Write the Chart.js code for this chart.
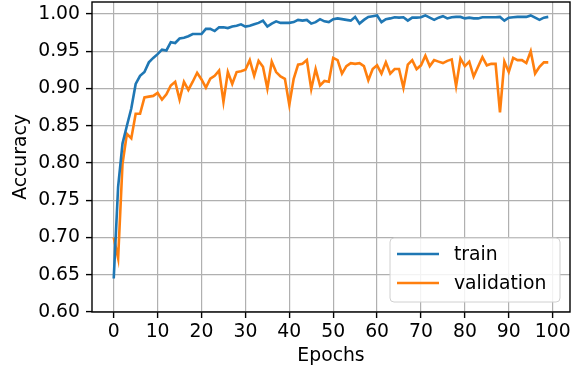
<!DOCTYPE html>
<html>
<head>
<meta charset="utf-8">
<script src="https://cdn.jsdelivr.net/npm/chart.js@4/dist/chart.umd.min.js"></script>
<style>
  html, body { margin: 0; padding: 0; background: #fff; }
</style>
</head>
<body>
<canvas id="acc" width="580" height="371"></canvas>
<script>
// ── DATA ──
const epochs = Array.from({ length: 100 }, (_, i) => i);

const trainAcc = [
  0.645, 0.768, 0.826, 0.850, 0.873, 0.906, 0.917, 0.922, 0.935, 0.941,
  0.946, 0.952, 0.951, 0.962, 0.961, 0.967, 0.968, 0.970, 0.973, 0.973,
  0.973, 0.980, 0.980, 0.977, 0.982, 0.982, 0.981, 0.983, 0.984, 0.986,
  0.983, 0.984, 0.986, 0.988, 0.991, 0.983, 0.987, 0.990, 0.988, 0.988,
  0.988, 0.989, 0.992, 0.991, 0.992, 0.987, 0.989, 0.993, 0.990, 0.989,
  0.993, 0.994, 0.993, 0.992, 0.991, 0.996, 0.987, 0.992, 0.996, 0.997,
  0.998, 0.989, 0.993, 0.994, 0.9955, 0.995, 0.9955, 0.991, 0.995, 0.995,
  0.9955, 0.998, 0.995, 0.992, 0.995, 0.997, 0.994, 0.9955, 0.996, 0.996,
  0.994, 0.995, 0.994, 0.994, 0.9955, 0.9955, 0.9955, 0.9955, 0.996, 0.991,
  0.995, 0.9955, 0.996, 0.996, 0.996, 0.998, 0.995, 0.992, 0.995, 0.996
];

const valAcc = [
  0.700, 0.672, 0.799, 0.839, 0.833, 0.866, 0.866, 0.888, 0.889, 0.890,
  0.894, 0.885, 0.892, 0.904, 0.909, 0.885, 0.909, 0.898, 0.909, 0.921,
  0.912, 0.901, 0.913, 0.917, 0.924, 0.882, 0.922, 0.906, 0.922, 0.923,
  0.925, 0.938, 0.917, 0.937, 0.929, 0.900, 0.936, 0.922, 0.916, 0.913,
  0.878, 0.913, 0.932, 0.933, 0.938, 0.899, 0.926, 0.904, 0.910, 0.909,
  0.941, 0.938, 0.920, 0.930, 0.934, 0.933, 0.934, 0.930, 0.911, 0.926,
  0.931, 0.920, 0.935, 0.920, 0.926, 0.926, 0.901, 0.932, 0.938, 0.926,
  0.931, 0.944, 0.930, 0.938, 0.936, 0.934, 0.937, 0.939, 0.903, 0.940,
  0.930, 0.936, 0.916, 0.929, 0.942, 0.931, 0.933, 0.933, 0.868, 0.936,
  0.922, 0.941, 0.938, 0.938, 0.934, 0.950, 0.920, 0.929, 0.935, 0.935
];

const seriesNames = ['train', 'validation'];
const xTicks = [0, 10, 20, 30, 40, 50, 60, 70, 80, 90, 100];
const yTicks = [0.60, 0.65, 0.70, 0.75, 0.80, 0.85, 0.90, 0.95, 1.00];

// ── STYLE ──
const FONT = 'DejaVu Sans';
const FS = 18.8;
const colors = ['#1f77b4', '#ff7f0e'];

// frame round the plot area (matplotlib spines)
const framePlugin = {
  id: 'frame',
  afterDraw(chart) {
    const { ctx, chartArea: a } = chart;
    ctx.save();
    ctx.strokeStyle = '#000';
    ctx.lineWidth = 1.4;
    ctx.strokeRect(a.left, a.top, a.right - a.left, a.bottom - a.top);
    ctx.restore();
  }
};

// legend box in the lower right corner
const boxLegend = {
  id: 'boxLegend',
  afterDraw(chart) {
    const { ctx, chartArea: a } = chart;
    const w = 170, h = 64;
    const x = a.right - 10 - w, y = a.bottom - 10 - h;
    ctx.save();
    ctx.beginPath();
    ctx.roundRect(x, y, w, h, 4);
    ctx.fillStyle = 'rgba(255,255,255,0.85)';
    ctx.fill();
    ctx.strokeStyle = '#d0d0d0';
    ctx.lineWidth = 1;
    ctx.stroke();
    ctx.font = FS + 'px "' + FONT + '"';
    ctx.textBaseline = 'middle';
    ctx.textAlign = 'left';
    chart.data.datasets.forEach((ds, i) => {
      const ly = y + 16 + i * 29;
      ctx.beginPath();
      ctx.moveTo(x + 7, ly);
      ctx.lineTo(x + 49, ly);
      ctx.strokeStyle = ds.borderColor;
      ctx.lineWidth = 2.6;
      ctx.stroke();
      ctx.fillStyle = '#000';
      ctx.fillText(ds.label, x + 64, ly + 1);
    });
    ctx.restore();
  }
};

new Chart(document.getElementById('acc'), {
  type: 'line',
  data: {
    labels: epochs,
    datasets: [
      { label: seriesNames[0], data: trainAcc, borderColor: colors[0], backgroundColor: colors[0],
        borderWidth: 2.6, pointRadius: 0, tension: 0, fill: false },
      { label: seriesNames[1], data: valAcc, borderColor: colors[1], backgroundColor: colors[1],
        borderWidth: 2.6, pointRadius: 0, tension: 0, fill: false }
    ]
  },
  options: {
    responsive: false,
    animation: false,
    devicePixelRatio: 1,
    layout: { padding: { top: 2, right: 10, left: 0, bottom: 0 } },
    plugins: { legend: { display: false }, tooltip: { enabled: false } },
    scales: {
      x: {
        type: 'linear',
        min: -4.95, max: 103.95,
        afterBuildTicks: s => { s.ticks = xTicks.map(v => ({ value: v })); },
        afterFit: s => { s.height = 59; s.paddingLeft = 0; s.paddingRight = 0; },
        ticks: { color: '#000', font: { family: FONT, size: FS }, padding: 3, maxRotation: 0,
                 autoSkip: false, callback: v => String(v) },
        grid: { color: '#b0b0b0', lineWidth: 1.2, tickColor: '#000', tickLength: 6, tickWidth: 1.4 },
        border: { display: false },
        title: { display: true, text: 'Epochs', color: '#000',
                 font: { family: FONT, size: FS, lineHeight: 0.8 }, padding: { top: 0, bottom: 7 } }
      },
      y: {
        min: 0.6, max: 1.016,
        afterBuildTicks: s => { s.ticks = yTicks.map(v => ({ value: v })); },
        afterFit: s => { s.width = 92; s.paddingTop = 0; s.paddingBottom = 0; },
        ticks: { color: '#000', font: { family: FONT, size: FS, lineHeight: 1 }, padding: 6,
                 autoSkip: false, callback: v => v.toFixed(2) },
        grid: { color: '#b0b0b0', lineWidth: 1.2, tickColor: '#000', tickLength: 6, tickWidth: 1.4 },
        border: { display: false },
        title: { display: true, text: 'Accuracy', color: '#000',
                 font: { family: FONT, size: FS, lineHeight: 1.2 }, padding: { top: 10, bottom: 0 } }
      }
    }
  },
  plugins: [framePlugin, boxLegend]
});
</script>
</body>
</html>
